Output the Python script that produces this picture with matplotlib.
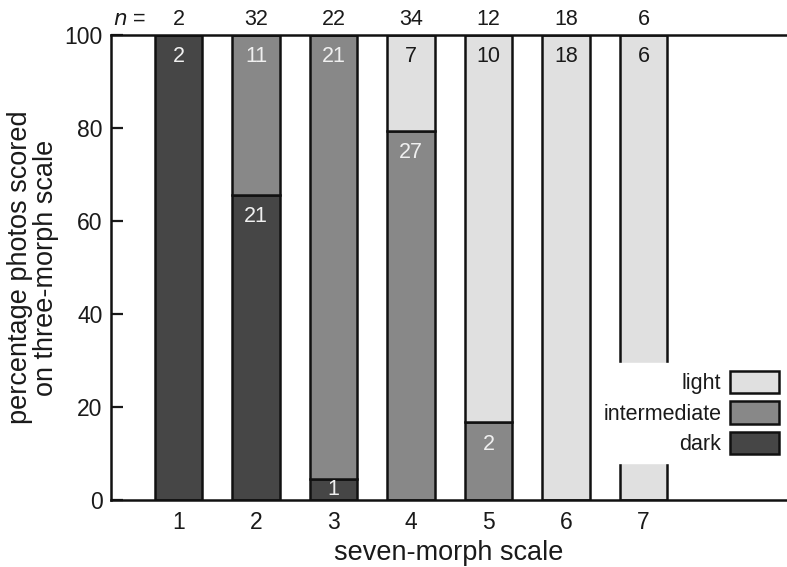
import matplotlib
matplotlib.use("Agg")
import matplotlib.pyplot as plt
import numpy as np
from matplotlib.patches import Patch

categories = [1, 2, 3, 4, 5, 6, 7]
dark = [2, 21, 1, 0, 0, 0, 0]
intermediate = [0, 11, 21, 27, 2, 0, 0]
light = [0, 0, 0, 7, 10, 18, 6]
series_names = ["dark", "intermediate", "light"]
colors = {"dark": "#464646", "intermediate": "#888888", "light": "#e0e0e0"}
text_colors = {"dark": "#f0f0f0", "intermediate": "#f0f0f0", "light": "#1a1a1a"}

plt.rcParams['font.family'] = ['Liberation Sans', 'DejaVu Sans']

fig = plt.figure(figsize=(7.87, 5.67), dpi=100)
ax = fig.add_axes([0.1407, 0.1182, 0.8593, 0.8201])

counts = {"dark": np.array(dark), "intermediate": np.array(intermediate), "light": np.array(light)}
n = counts["dark"] + counts["intermediate"] + counts["light"]
x = np.array(categories)
bottom = np.zeros(len(x))
width = 0.61
for name in series_names:
    pct = counts[name] / n * 100
    ax.bar(x, pct, width, bottom=bottom, color=colors[name], edgecolor="#111111",
           linewidth=1.8, zorder=2)
    for xi, c, p, b in zip(x, counts[name], pct, bottom):
        if c > 0:
            top = b + p
            yl = top - 4.7
            if yl - b < 2.5:
                yl = b + p / 2
            ax.text(xi, yl, str(c), ha="center", va="center", fontsize=15.5,
                    color=text_colors[name], zorder=3)
    bottom = bottom + pct

ax.set_xlim(0.125, 8.85)
ax.set_ylim(0, 100)
ax.set_xticks(categories)
ax.set_xticklabels([str(c) for c in categories])
ax.set_yticks([0, 20, 40, 60, 80, 100])
ax.tick_params(axis="x", length=0, labelsize=16.5, pad=8, colors="#1a1a1a")
ax.tick_params(axis="y", direction="in", length=8.5, width=1.6, labelsize=16.5, pad=6, colors="#1a1a1a")
for s in ["left", "bottom", "top"]:
    ax.spines[s].set_linewidth(1.8)
    ax.spines[s].set_color("#111111")
ax.spines["right"].set_visible(False)

ax.set_xlabel("seven-morph scale", fontsize=19.5, labelpad=4, color="#1a1a1a")
ax.set_ylabel("percentage photos scored\non three-morph scale", fontsize=19.5,
              labelpad=4, linespacing=1.0, color="#1a1a1a")

for xi, ni in zip(x, n):
    ax.text(xi, 103.3, str(ni), ha="center", va="center", fontsize=15.5,
            color="#1a1a1a", clip_on=False)
ax.text(0.37, 103.3, "$n$ =", ha="center", va="center", fontsize=15.5,
        color="#1a1a1a", clip_on=False)

handles = [Patch(facecolor=colors[nm], edgecolor="#111111", linewidth=1.8)
           for nm in ["light", "intermediate", "dark"]]
leg = ax.legend(handles, ["light", "intermediate", "dark"], loc="center right",
                bbox_to_anchor=(1.0, 0.187), markerfirst=False, frameon=True,
                fontsize=15.5, handlelength=2.3, handleheight=1.25, labelspacing=0.32,
                handletextpad=0.4, borderpad=0.35, borderaxespad=0.0, fancybox=False)
leg.get_frame().set_facecolor("white")
leg.get_frame().set_edgecolor("white")
leg.get_frame().set_alpha(1)
leg.set_zorder(5)
for t in leg.get_texts():
    t.set_color("#1a1a1a")

fig.savefig("out.png", dpi=100)
